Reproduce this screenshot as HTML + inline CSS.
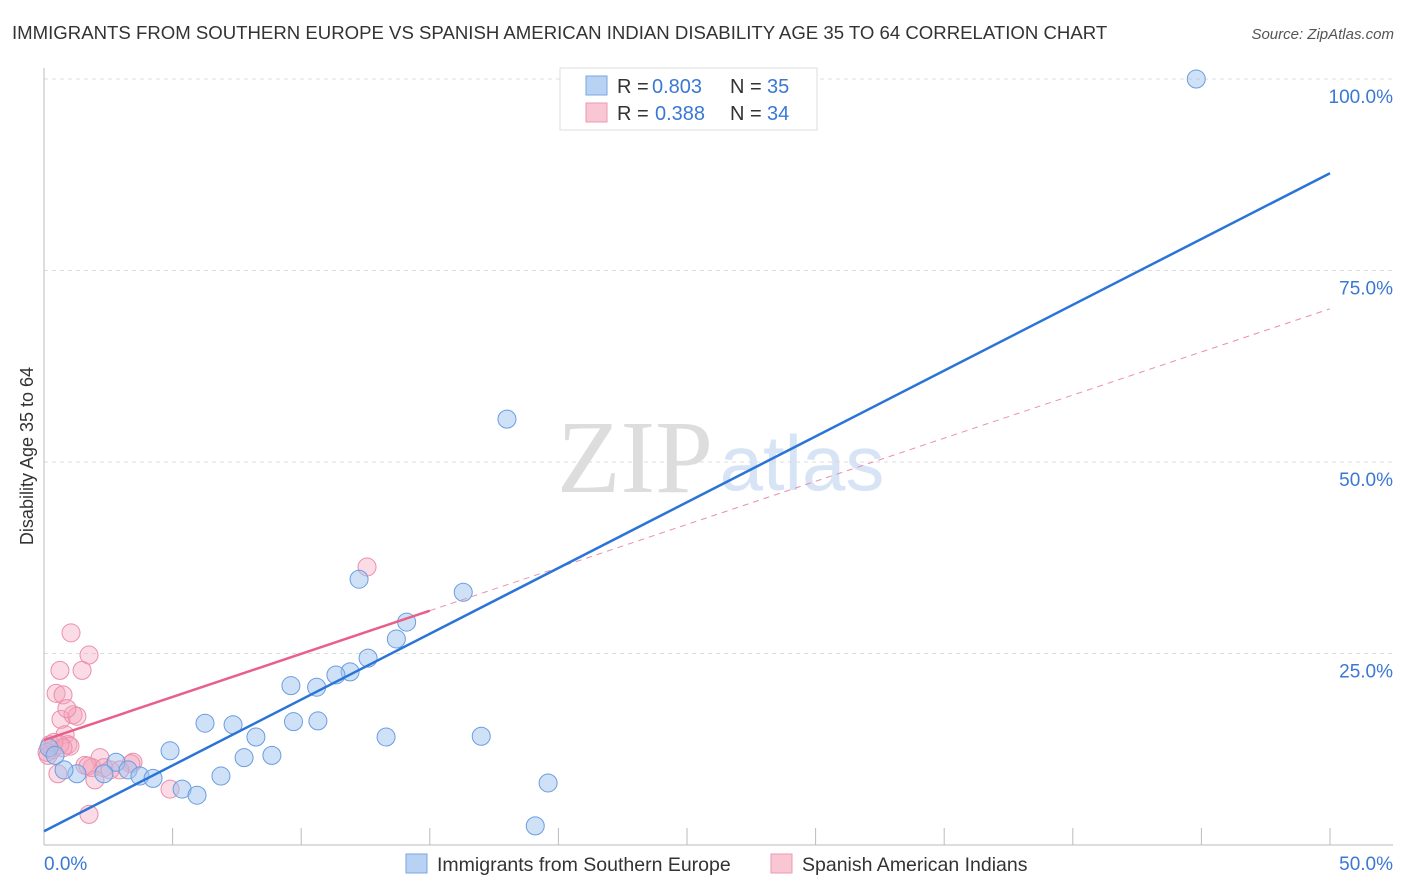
<!DOCTYPE html>
<html><head><meta charset="utf-8"><style>
body{margin:0;background:#fff;font-family:"Liberation Sans",sans-serif;}
svg{display:block}
</style></head><body>
<svg width="1406" height="892" id="chart">
<text x="12" y="39" font-size="18.6" fill="#333">IMMIGRANTS FROM SOUTHERN EUROPE VS SPANISH AMERICAN INDIAN DISABILITY AGE 35 TO 64 CORRELATION CHART</text>
<text x="1394" y="39" font-size="15" fill="#555" font-style="italic" text-anchor="end">Source: ZipAtlas.com</text>
<text x="635" y="492" font-size="104" fill="#ddd" font-family="Liberation Serif,serif" text-anchor="middle">ZIP</text>
<text x="802" y="490" font-size="78" fill="#d6e4f5" text-anchor="middle">atlas</text>
<g id="grid"></g>
<g id="marks"></g>
<text transform="translate(33,456) rotate(-90)" font-size="18" fill="#333" text-anchor="middle">Disability Age 35 to 64</text>
<text x="44" y="870" font-size="19" fill="#3a78d4">0.0%</text>
<text x="1393" y="870" font-size="19" fill="#3a78d4" text-anchor="end">50.0%</text>
<g>
<rect x="560" y="68" width="257" height="62" fill="#fff" stroke="#ddd"/>
<rect x="586" y="76" width="21" height="19" fill="#b8d2f4" stroke="#7aa6e0"/>
<rect x="586" y="103" width="21" height="19" fill="#f9c6d4" stroke="#ec9ab4"/>
<text x="617" y="93" font-size="20" fill="#333">R =</text>
<text x="652" y="93" font-size="20" fill="#3a78d4">0.803</text>
<text x="730" y="93" font-size="20" fill="#333">N =</text>
<text x="767" y="93" font-size="20" fill="#3a78d4">35</text>
<text x="617" y="120" font-size="20" fill="#333">R =</text>
<text x="655" y="120" font-size="20" fill="#3a78d4">0.388</text>
<text x="730" y="120" font-size="20" fill="#333">N =</text>
<text x="767" y="120" font-size="20" fill="#3a78d4">34</text>
</g>
<g>
<rect x="406" y="854" width="21" height="19" fill="#b8d2f4" stroke="#7aa6e0"/>
<text x="437" y="871" font-size="19.5" fill="#333">Immigrants from Southern Europe</text>
<rect x="771" y="854" width="21" height="19" fill="#f9c6d4" stroke="#ec9ab4"/>
<text x="802" y="871" font-size="19.5" fill="#333">Spanish American Indians</text>
</g>
</svg>
<script>
const blueX=[44.8,18.0,16.3,12.25,14.1,13.7,12.6,11.9,11.35,9.6,10.6,10.65,9.7,6.26,7.35,13.3,17.0,8.24,4.9,8.86,7.78,2.8,3.27,3.73,4.24,6.88,2.33,1.28,0.78,5.37,5.95,19.6,19.1,0.19,0.43];
const blueY=[100.0,55.6,33.0,34.7,29.1,26.9,24.4,22.6,22.2,20.8,20.6,16.2,16.1,15.9,15.7,14.1,14.2,14.1,12.3,11.7,11.4,10.8,9.8,9.0,8.7,9.0,9.3,9.3,9.8,7.3,6.5,8.1,2.5,12.7,11.7];
const pinkX=[12.56,1.05,1.75,0.62,1.48,0.47,0.74,0.66,1.13,1.28,0.89,0.82,0.93,1.01,0.23,0.31,0.16,0.62,1.59,2.18,3.46,3.38,1.87,1.71,2.33,1.98,0.54,4.9,1.75,0.39,0.12,2.95,2.57,0.74];
const pinkY=[36.3,27.7,24.8,22.8,22.8,19.8,19.6,16.4,17.0,16.8,17.8,14.4,13.1,12.9,13.1,12.4,11.7,13.1,10.4,11.4,10.8,10.6,10.1,10.3,10.1,8.5,9.3,7.3,4.0,13.4,12.1,9.8,9.8,12.7];
const yTicks=[25,50,75,100];
const yTickLabels=["25.0%","50.0%","75.0%","100.0%"];
const xTicks=[5,10,15,20,25,30,35,40,45,50];
const blueTrend=[1.8,87.7];
const pinkTrend=[13.7,70.0];
const pinkSolidEnd=15;
const X=v=>44+v*25.72, Y=v=>845-v*7.66;
const NS="http://www.w3.org/2000/svg";
const grid=document.getElementById('grid'), marks=document.getElementById('marks');
function mk(tag,attrs,parent){const e=document.createElementNS(NS,tag);for(const k in attrs)e.setAttribute(k,attrs[k]);parent.appendChild(e);return e;}
yTicks.forEach((t,i)=>{
 const l=mk('line',{x1:44,x2:1393,y1:Y(t),y2:Y(t),stroke:'#ddd','stroke-dasharray':'4,4'},grid);
 
 
 const tx=mk('text',{x:1393,y:Y(t)+24,'font-size':19,fill:'#3a78d4','text-anchor':'end'},grid);
 tx.textContent=yTickLabels[i];
 
 
});
const ax=mk('line',{x1:44,x2:44,y1:68,y2:845,stroke:'#bbb'},grid);


const bx=mk('line',{x1:44,x2:1393,y1:845,y2:845,stroke:'#bbb'},grid);


xTicks.forEach(t=>{
 const l=mk('line',{x1:X(t),x2:X(t),y1:828,y2:845,stroke:'#bbb'},grid);
 
 
});
pinkX.forEach((x,i)=>{
 const c=mk('circle',{cx:X(x),cy:Y(pinkY[i]),r:9,fill:'rgba(245,165,190,0.4)',stroke:'#ea8fac','stroke-width':1},marks);
 
 
});
blueX.forEach((x,i)=>{
 const c=mk('circle',{cx:X(x),cy:Y(blueY[i]),r:9,fill:'rgba(160,196,240,0.5)',stroke:'#6a9de0','stroke-width':1},marks);
 
 
});
const pf=x=>pinkTrend[0]+(pinkTrend[1]-pinkTrend[0])*x/50;
const pd=mk('line',{x1:X(pinkSolidEnd),y1:Y(pf(pinkSolidEnd)),x2:X(50),y2:Y(pf(50)),stroke:'#ea8fac','stroke-width':1,'stroke-dasharray':'6,5'},marks);


const ps=mk('line',{x1:X(0),y1:Y(pf(0)),x2:X(pinkSolidEnd),y2:Y(pf(pinkSolidEnd)),stroke:'#e8608a','stroke-width':2.5},marks);


const bl=mk('line',{x1:X(0),y1:Y(blueTrend[0]),x2:X(50),y2:Y(blueTrend[1]),stroke:'#2a74d8','stroke-width':2.5},marks);


</script>
</body></html>
